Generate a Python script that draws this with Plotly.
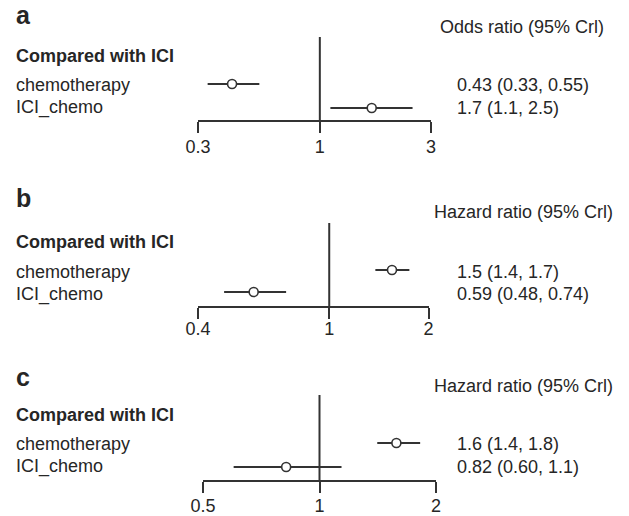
import plotly.graph_objects as go
import math

W, H = 629, 516

# ---- data ----
panels = ["a", "b", "c"]
headers = ["Odds ratio (95% Crl)", "Hazard ratio (95% Crl)", "Hazard ratio (95% Crl)"]
group_title = "Compared with ICI"
treatments = ["chemotherapy", "ICI_chemo"]

est_a = [0.42, 1.67]
lo_a = [0.33, 1.11]
hi_a = [0.55, 2.5]
txt_a = ["0.43 (0.33, 0.55)", "1.7 (1.1, 2.5)"]

est_b = [1.55, 0.59]
lo_b = [1.38, 0.48]
hi_b = [1.75, 0.74]
txt_b = ["1.5 (1.4, 1.7)", "0.59 (0.48, 0.74)"]

est_c = [1.58, 0.82]
lo_c = [1.41, 0.60]
hi_c = [1.82, 1.14]
txt_c = ["1.6 (1.4, 1.8)", "0.82 (0.60, 1.1)"]

ticks_a = [0.3, 1, 3]
ticks_b = [0.4, 1, 2]
ticks_c = [0.5, 1, 2]
ticklabels_a = ["0.3", "1", "3"]
ticklabels_b = ["0.4", "1", "2"]
ticklabels_c = ["0.5", "1", "2"]

# ---- layout geometry (pixels) ----
FONT = "Liberation Sans, Arial, Helvetica, sans-serif"
TXT = "#262626"
LINE = "#333333"

geo = [
    dict(x0=198, x1=431, yb=120, yt=37, ppu=24, low=12, stand=-2,
         lab=dict(letter=15, header=27, title=56, rows=[84.5, 107.5])),
    dict(x0=198, x1=428.5, yb=306, yt=223, ppu=22, low=14, stand=-6,
         lab=dict(letter=198, header=212, title=242, rows=[272, 294])),
    dict(x0=203, x1=436, yb=480, yt=395, ppu=24, low=13, stand=-3,
         lab=dict(letter=377, header=386, title=415, rows=[444, 466.5])),
]

data = [
    (est_a, lo_a, hi_a, txt_a, ticks_a, ticklabels_a),
    (est_b, lo_b, hi_b, txt_b, ticks_b, ticklabels_b),
    (est_c, lo_c, hi_c, txt_c, ticks_c, ticklabels_c),
]

fig = go.Figure()
layout = dict(
    width=W, height=H, margin=dict(l=0, r=0, t=0, b=0, pad=0, autoexpand=False),
    paper_bgcolor="white", plot_bgcolor="white", showlegend=False,
    font=dict(family=FONT, size=18, color=TXT),
)
annotations = []
shapes = []

def py(px):
    return 1 - px / H

for i, (g, (est, lo, hi, txt, tv, tt)) in enumerate(zip(geo, data)):
    n = "" if i == 0 else str(i + 1)
    xa, ya = "x" + n, "y" + n
    rows = [2, 1]  # chemotherapy on top
    ylo = 1 - g["low"] / g["ppu"]
    span = (g["yb"] - g["yt"]) / g["ppu"]
    yhi = ylo + span
    xs, ys = [], []
    for l, h, r in zip(lo, hi, rows):
        xs += [l, h, None]
        ys += [r, r, None]
    fig.add_trace(go.Scatter(x=xs, y=ys, mode="lines", line=dict(color=LINE, width=2),
                             xaxis=xa, yaxis=ya, hoverinfo="skip"))
    fig.add_trace(go.Scatter(x=est, y=rows, mode="markers",
                             marker=dict(symbol="circle", size=9, color="white",
                                         line=dict(color=LINE, width=1.6)),
                             xaxis=xa, yaxis=ya))
    eps = 1e-7
    layout["xaxis" + n] = dict(
        type="log", range=[math.log10(tv[0]) - eps, math.log10(tv[-1]) + eps],
        domain=[g["x0"] / W, g["x1"] / W], anchor=ya, automargin=False,
        showgrid=False, zeroline=False, showline=True, linecolor=LINE, linewidth=2,
        ticks="outside", ticklen=11, tickwidth=2, tickcolor=LINE,
        tickvals=tv, ticktext=tt, tickfont=dict(size=18, color=TXT, family=FONT),
        ticklabelstandoff=g["stand"], fixedrange=True,
    )
    layout["yaxis" + n] = dict(
        range=[ylo, yhi], domain=[py(g["yb"]), py(g["yt"])], anchor=xa,
        visible=False, fixedrange=True, automargin=False,
    )
    shapes.append(dict(type="line", xref=xa, yref=ya + " domain", x0=1, x1=1, y0=0, y1=1,
                       line=dict(color=LINE, width=2)))
    lab = g["lab"]
    annotations.append(dict(text="<b>%s</b>" % panels[i], xref="paper", yref="paper",
                             x=14 / W, y=py(lab["letter"]), xanchor="left", yanchor="middle",
                             showarrow=False, font=dict(size=25, color=TXT, family=FONT)))
    annotations.append(dict(text="<b>%s</b>" % group_title, xref="paper", yref="paper",
                             x=14 / W, y=py(lab["title"]), xanchor="left", yanchor="middle",
                             showarrow=False, font=dict(size=18, color=TXT, family=FONT)))
    hx = 438 if i == 0 else 432
    annotations.append(dict(text=headers[i], xref="paper", yref="paper",
                             x=hx / W, y=py(lab["header"]), xanchor="left", yanchor="middle",
                             showarrow=False, font=dict(size=18, color=TXT, family=FONT)))
    for name, t, ry in zip(treatments, txt, lab["rows"]):
        annotations.append(dict(text=name, xref="paper", yref="paper",
                                 x=14 / W, y=py(ry), xanchor="left", yanchor="middle",
                                 showarrow=False, font=dict(size=18, color=TXT, family=FONT)))
        annotations.append(dict(text=t, xref="paper", yref="paper",
                                 x=455 / W, y=py(ry), xanchor="left", yanchor="middle",
                                 showarrow=False, font=dict(size=18, color=TXT, family=FONT)))

layout["annotations"] = annotations
layout["shapes"] = shapes
fig.update_layout(**layout)
fig.write_html("out.html")
